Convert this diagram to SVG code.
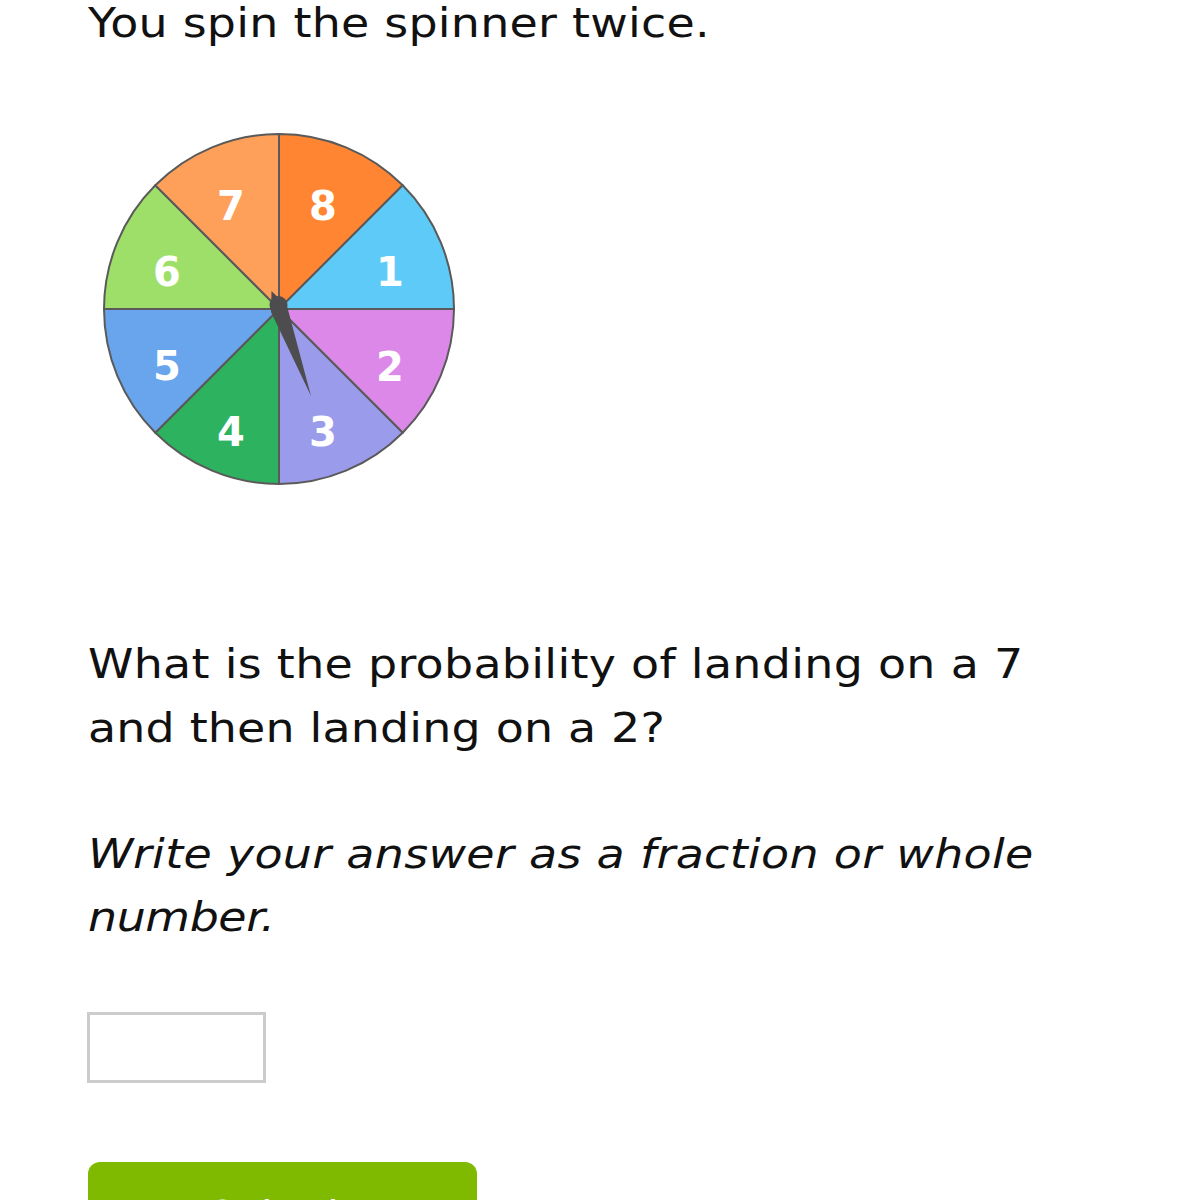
<svg xmlns="http://www.w3.org/2000/svg" width="1199" height="1200" viewBox="0 0 1199 1200">
<style>
.t{font-family:"DejaVu Sans",Verdana,sans-serif;font-size:41px;fill:#111}
.i{font-style:italic}
.sec{stroke:#5a5a5a;stroke-width:2;stroke-linejoin:round}
.lbl{font-family:"DejaVu Sans",Verdana,sans-serif;font-weight:bold;font-size:40px;fill:#fff;text-anchor:middle}
</style>
<rect width="1199" height="1200" fill="#fff"/>
<g id="title" transform="translate(88,0) scale(1.12,1)"><text class="t" x="0" y="37" textLength="555" lengthAdjust="spacing">You spin the spinner twice.</text></g>
<g id="spinner">
<path class="sec" fill="#FF8533" d="M279,309 L279,134 A175,175 0 0 1 402.7,185.3 Z"/>
<path class="sec" fill="#5DCAF7" d="M279,309 L402.7,185.3 A175,175 0 0 1 454,309 Z"/>
<path class="sec" fill="#DC88E8" d="M279,309 L454,309 A175,175 0 0 1 402.7,432.7 Z"/>
<path class="sec" fill="#9B9BEC" d="M279,309 L402.7,432.7 A175,175 0 0 1 279,484 Z"/>
<path class="sec" fill="#2DB360" d="M279,309 L279,484 A175,175 0 0 1 155.3,432.7 Z"/>
<path class="sec" fill="#68A5EC" d="M279,309 L155.3,432.7 A175,175 0 0 1 104,309 Z"/>
<path class="sec" fill="#9EDF6A" d="M279,309 L104,309 A175,175 0 0 1 155.3,185.3 Z"/>
<path class="sec" fill="#FFA05A" d="M279,309 L155.3,185.3 A175,175 0 0 1 279,134 Z"/>
<text class="lbl" x="231" y="220">7</text>
<text class="lbl" x="323" y="220">8</text>
<text class="lbl" x="390" y="286">1</text>
<text class="lbl" x="167" y="286">6</text>
<text class="lbl" x="167" y="380">5</text>
<text class="lbl" x="390" y="381">2</text>
<text class="lbl" x="231" y="446">4</text>
<text class="lbl" x="323" y="446">3</text>
<polygon fill="#4d4d4f" points="271.5,291 287,306 311,396 271,312"/>
<circle cx="278.5" cy="305" r="9" fill="#4d4d4f"/>
</g>
<g id="question">
<g transform="translate(88,0) scale(1.12,1)">
<text class="t" x="0" y="678" textLength="835" lengthAdjust="spacing">What is the probability of landing on a 7</text>
<text class="t" x="0" y="742" textLength="515" lengthAdjust="spacing">and then landing on a 2?</text>
<text class="t i" x="0" y="868" textLength="844" lengthAdjust="spacing">Write your answer as a fraction or whole</text>
<text class="t i" x="0" y="931" textLength="167" lengthAdjust="spacing">number.</text>
</g>
</g>
<g id="answer-box"><rect x="88.5" y="1013.5" width="176" height="68" fill="#fff" stroke="#cccccc" stroke-width="3"/></g>
<g id="submit">
<rect x="88" y="1162" width="389" height="90" rx="12" fill="#80BA00"/>
<text x="282" y="1230" font-family="DejaVu Sans,Verdana,sans-serif" font-size="41" fill="#fff" text-anchor="middle">Submit</text>
</g>
</svg>
